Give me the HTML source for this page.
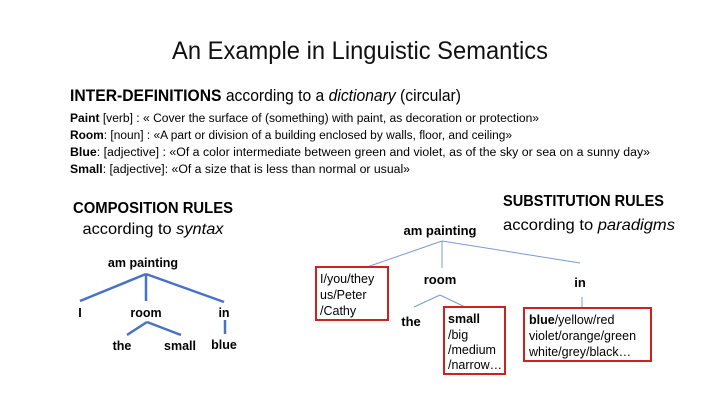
<!DOCTYPE html>
<html><head><meta charset="utf-8"><style>
html,body{margin:0;padding:0;background:#fff;}
svg{display:block;font-family:"Liberation Sans",sans-serif;}
</style></head><body>
<svg width="720" height="405" viewBox="0 0 720 405" xmlns="http://www.w3.org/2000/svg">
<text x="360" y="59" text-anchor="middle" font-size="25" fill="#111" textLength="376" lengthAdjust="spacingAndGlyphs">An Example in Linguistic Semantics</text>
<text x="70" y="101" font-size="17" fill="#000" textLength="391" lengthAdjust="spacingAndGlyphs"><tspan font-weight="bold">INTER-DEFINITIONS</tspan> according to a <tspan font-style="italic">dictionary</tspan> (circular)</text>
<g font-size="11.5" fill="#000">
<text x="70" y="122" textLength="469" lengthAdjust="spacingAndGlyphs"><tspan font-weight="bold">Paint</tspan> [verb] : « Cover the surface of (something) with paint, as decoration or protection»</text>
<text x="70" y="139" textLength="442" lengthAdjust="spacingAndGlyphs"><tspan font-weight="bold">Room</tspan>: [noun] : «A part or division of a building enclosed by walls, floor, and ceiling»</text>
<text x="70" y="156" textLength="580" lengthAdjust="spacingAndGlyphs"><tspan font-weight="bold">Blue</tspan>: [adjective] : «Of a color intermediate between green and violet, as of the sky or sea on a sunny day»</text>
<text x="70" y="173" textLength="340" lengthAdjust="spacingAndGlyphs"><tspan font-weight="bold">Small</tspan>: [adjective]: «Of a size that is less than normal or usual»</text>
</g>
<text x="153" y="213" text-anchor="middle" font-size="16" font-weight="bold" textLength="160" lengthAdjust="spacingAndGlyphs">COMPOSITION RULES</text>
<text x="153" y="234" text-anchor="middle" font-size="16" textLength="141" lengthAdjust="spacingAndGlyphs">according to <tspan font-style="italic">syntax</tspan></text>
<g stroke="#4a72c4" stroke-width="2.5" fill="none">
<line x1="146" y1="274" x2="80" y2="301"/><line x1="146" y1="274" x2="146" y2="301"/><line x1="146" y1="274" x2="224" y2="302"/>
<line x1="147" y1="322" x2="127" y2="335"/><line x1="147" y1="322" x2="181" y2="335"/>
<line x1="225" y1="320" x2="225" y2="334"/>
</g>
<g font-size="12.5" font-weight="bold" text-anchor="middle" fill="#000">
<text x="143" y="267">am painting</text>
<text x="80" y="317">I</text><text x="146" y="317">room</text><text x="224" y="317">in</text>
<text x="122" y="350">the</text><text x="180" y="350">small</text><text x="224" y="349">blue</text>
</g>
<text x="503" y="206" font-size="16" font-weight="bold" textLength="161" lengthAdjust="spacingAndGlyphs">SUBSTITUTION RULES</text>
<text x="503" y="230" font-size="16" textLength="172" lengthAdjust="spacingAndGlyphs">according to <tspan font-style="italic">paradigms</tspan></text>
<g stroke="#7b9bd4" stroke-width="1" fill="none">
<line x1="442" y1="241" x2="367" y2="267"/><line x1="442" y1="241" x2="442" y2="268"/><line x1="442" y1="241" x2="580" y2="263"/>
<line x1="440" y1="295" x2="414" y2="307"/><line x1="440" y1="295" x2="465" y2="307"/>
<line x1="582" y1="297" x2="582" y2="308"/>
</g>
<g font-size="13" font-weight="bold" text-anchor="middle" fill="#000">
<text x="440" y="235">am painting</text><text x="440" y="284">room</text><text x="580" y="287">in</text><text x="411" y="326">the</text>
</g>
<g stroke="#cc2222" stroke-width="2" fill="#fff">
<rect x="316" y="267" width="72" height="53"/>
<rect x="444" y="307" width="61" height="67"/>
<rect x="524" y="308" width="127" height="53"/>
</g>
<g font-size="12.5" fill="#000">
<text x="320" y="283">I/you/they</text><text x="320" y="299">us/Peter</text><text x="320" y="315">/Cathy</text>
<text x="448" y="323" font-weight="bold">small</text><text x="448" y="339">/big</text><text x="448" y="354">/medium</text><text x="448" y="369">/narrow…</text>
<text x="529" y="324"><tspan font-weight="bold">blue</tspan>/yellow/red</text>
<text x="529" y="340">violet/orange/green</text>
<text x="529" y="356">white/grey/black…</text>
</g>
</svg>
</body></html>
